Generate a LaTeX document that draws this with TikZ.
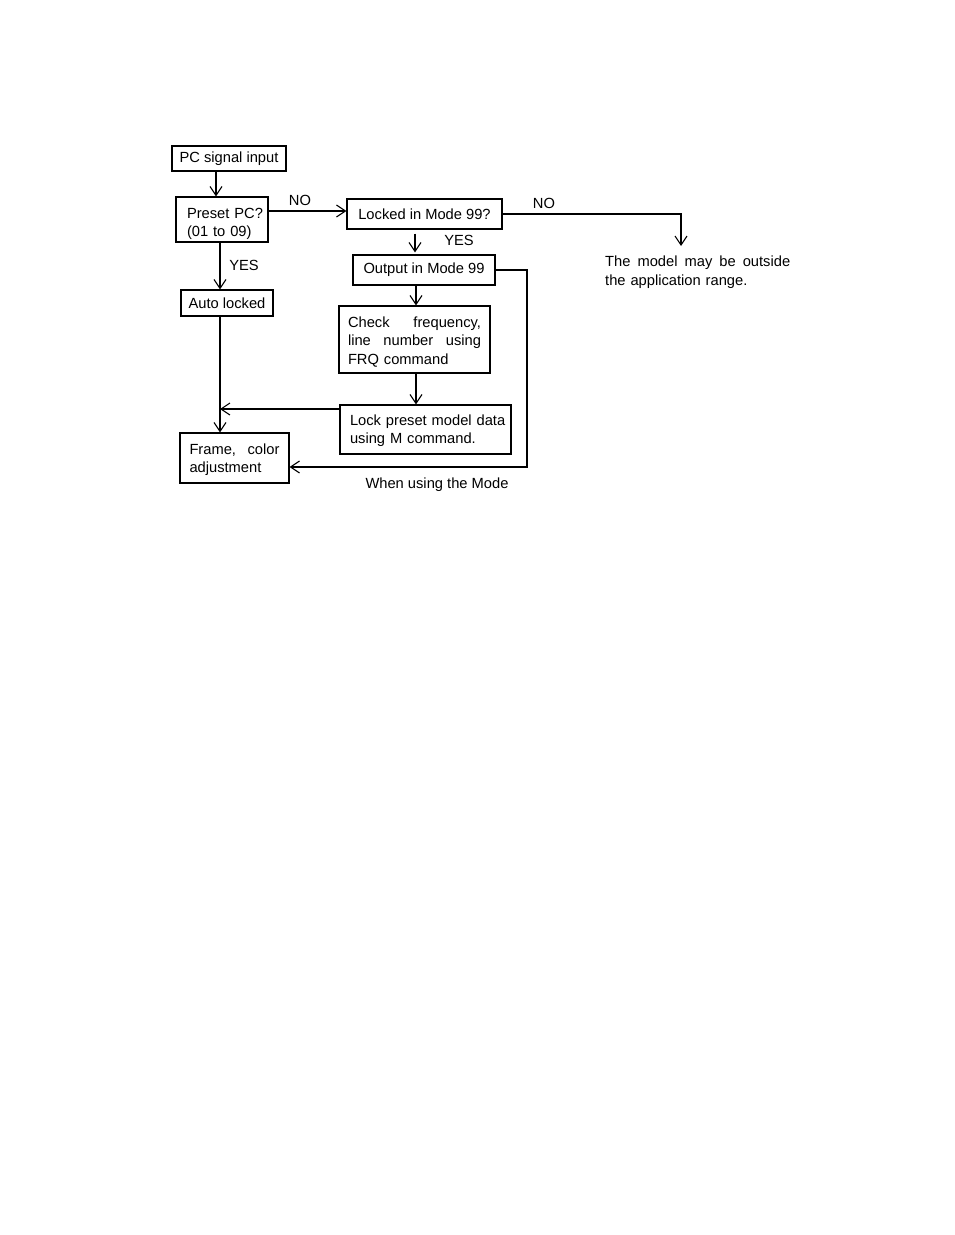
\documentclass[tikz,border=0pt]{standalone}
\usepackage{fontspec}
\setmainfont{Liberation Sans}
\usetikzlibrary{arrows.meta}
\newcommand{\jline}[2]{\leavevmode\hbox to #1{#2}}
\begin{document}
\begin{tikzpicture}[x=1pt,y=-1pt,
  every node/.style={font=\fontsize{14.7}{18.5}\selectfont},
  box/.style={draw, line width=1.1pt, inner sep=0pt, align=center},
  arr/.style={line width=1.1pt, -{Straight Barb[length=9pt,width=12pt,line width=1.1pt]}},
  ln/.style={line width=1.1pt}]
\useasboundingbox (0,0) rectangle (954,1235);

\node[box, minimum width=114pt, minimum height=25pt] (pc) at (229,158.5) {PC signal input};
\node[box, minimum height=45pt, text width=78pt, inner xsep=7pt, align=left] (preset) at (222,219.5) {\rule{0pt}{19pt}\hspace*{4pt}\mbox{Preset PC?}\\\hspace*{4pt}\mbox{(01 to 09)}};
\node[box, minimum width=155pt, minimum height=30pt] (locked) at (424.5,214) {Locked in Mode 99?};
\node[box, minimum width=142pt, minimum height=30pt] (output) at (424,270) {Output in Mode 99};
\node[box, text width=133pt, inner xsep=9pt, minimum height=67pt, align=left] (check) at (414.5,339.5) {\rule{0pt}{15.5pt}\jline{133pt}{Check\hfill frequency,}\\\jline{133pt}{line\hfill number\hfill using}\\FRQ command};
\node[box, minimum width=92pt, minimum height=26pt] (auto) at (227,303) {Auto locked};
\node[box, text width=151pt, inner xsep=10pt, minimum height=49pt, align=left] (lock) at (425.5,429.5) {\rule{0pt}{13pt}\mbox{Lock preset model data}\\\mbox{using M command.}};
\node[box, text width=90pt, inner xsep=9.5pt, minimum height=50pt, align=left] (frame) at (234.5,458) {\rule{0pt}{14.5pt}\jline{90pt}{Frame,\hfill color}\\adjustment};

\node[inner sep=0pt, text width=185pt, align=left, anchor=north west] (outside) at (605,256) {\jline{185pt}{The\hfill model\hfill may\hfill be\hfill outside}\\the application range.};

\node (no1) at (300,200) {NO};
\node (no2) at (544,203) {NO};
\node (yes1) at (459,240) {YES};
\node (yes2) at (244,265) {YES};
\node (when) at (437,485) {When using the Mode};

\coordinate (vx) at (220,0);
\coordinate (rx) at (527,0);
\coordinate (nx) at (681,0);

\draw[arr] ([xshift=-13pt]pc.south) -- ([xshift=-13pt]pc.south |- preset.north);
\draw[arr] ([yshift=8.5pt]preset.east) -- ([yshift=8.5pt]preset.east -| locked.west);
\draw[arr] (locked.east) -- (locked.east -| nx) -- ([yshift=10pt]nx |- outside.north);
\draw[arr] ([xshift=-9.5pt,yshift=-4pt]locked.south) -- ([xshift=-9.5pt,yshift=2pt]locked.south |- output.north);
\draw[arr] ([xshift=-8pt]output.south) -- ([xshift=-8pt]output.south |- check.north);
\draw[arr] ([xshift=1.5pt]check.south) -- ([xshift=1.5pt]check.south |- lock.north);
\draw[arr] ([yshift=20.5pt]lock.west) -- ([yshift=20.5pt]lock.west -| vx);
\draw[arr] ([xshift=-2pt]preset.south) -- ([xshift=-2pt]preset.south |- auto.north);
\draw[arr] (auto.south -| vx) -- (frame.north -| vx);
\draw[arr] (output.east) -- (output.east -| rx) -- ([yshift=-9pt]frame.east -| rx) -- ([yshift=-9pt]frame.east);
\end{tikzpicture}
\end{document}
